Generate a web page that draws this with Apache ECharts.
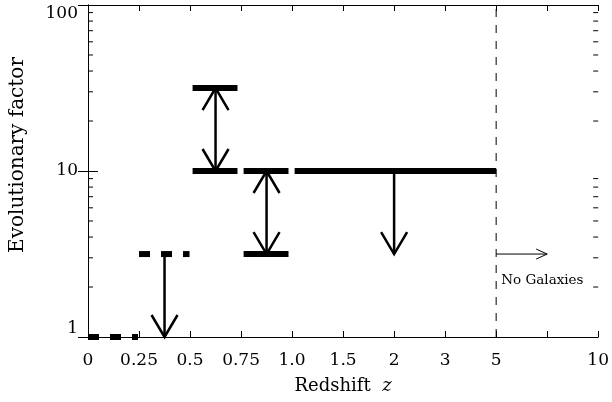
<!DOCTYPE html>
<html>
<head>
<meta charset="utf-8">
<script src="https://cdn.jsdelivr.net/npm/echarts@6/dist/echarts.min.js"></script>
<style>
  html, body { margin: 0; padding: 0; background: #fff; }
  #chart { width: 612px; height: 402px; }
</style>
</head>
<body>
<div id="chart"></div>
<script>
// x positions are slot indices 0..10, labelled with the redshift ticks
const xTickLabels = ['0', '0.25', '0.5', '0.75', '1.0', '1.5', '2', '3', '5', '', '10'];
const yMinorTicks = [2, 3, 4, 5, 6, 7, 8, 9, 20, 30, 40, 50, 60, 70, 80, 90];

// horizontal levels: [xStart, xEnd, factor]
const solidBars = [[2.05, 2.93, 31.6], [2.05, 2.93, 10], [3.05, 3.93, 10], [3.05, 3.93, 3.16], [4.05, 8, 10]];
const dashedBars = [[0, 0.98, 1], [1, 1.99, 3.16]];
// vertical arrows: [x, fromFactor, toFactor]
const downArrows = [[1.5, 3.16, 1], [6, 10, 3.16]];
const doubleArrows = [[2.5, 31.6, 10], [3.5, 10, 3.16]];
// horizontal thin arrow: [xStart, xEnd, factor]
const rightArrows = [[8, 9, 3.16]];
// limit line and its note
const limitLine = [[8, 1, 100]];
const noteText = [[8.1, 2.2, 'No Galaxies']];

const FONT = 'DejaVu Serif';
const chart = echarts.init(document.getElementById('chart'), null, { renderer: 'canvas' });

const barRender = dashed => (params, api) => {
  const a = api.coord([api.value(0), api.value(2)]);
  const b = api.coord([api.value(1), api.value(2)]);
  return {
    type: 'line',
    shape: { x1: a[0], y1: a[1], x2: b[0], y2: b[1] },
    style: { stroke: '#000', lineWidth: 6, lineDash: dashed ? [11, 11] : null, lineCap: 'butt' }
  };
};

const head = (tip, dx, dy, w) => ({
  type: 'polyline',
  shape: { points: [[tip[0] - dx, tip[1] + dy], tip, [tip[0] + dx, tip[1] + dy]] },
  style: { stroke: '#000', fill: null, lineWidth: w, lineJoin: 'miter' }
});

const vArrowRender = both => (params, api) => {
  const p0 = api.coord([api.value(0), api.value(1)]);
  const p1 = api.coord([api.value(0), api.value(2)]);
  const dir = p1[1] > p0[1] ? -1 : 1; // head opens back toward start
  const children = [
    { type: 'line', shape: { x1: p0[0], y1: p0[1], x2: p1[0], y2: p1[1] }, style: { stroke: '#000', lineWidth: 2.5 } },
    head(p1, 13, 22 * dir, 2.5)
  ];
  if (both) children.push(head(p0, 13, -22 * dir, 2.5));
  return { type: 'group', children };
};

chart.setOption({
  backgroundColor: '#fff',
  animation: false,
  grid: { left: 88, right: 12, top: 5, bottom: 65 },
  xAxis: [{
    type: 'value', min: 0, max: 10, interval: 1, position: 'bottom',
    axisLine: { show: true, onZero: false, lineStyle: { color: '#000', width: 1 } },
    axisTick: { show: true, inside: true, length: 6, lineStyle: { color: '#000' } },
    axisLabel: { color: '#000', fontFamily: FONT, fontSize: 17, margin: 15, formatter: v => xTickLabels[Math.round(v)] },
    splitLine: { show: false },
    name: 'Redshift  {i|z}', nameLocation: 'middle', nameGap: 40,
    nameTextStyle: { color: '#000', fontFamily: FONT, fontSize: 18, rich: { i: { fontStyle: 'italic', fontFamily: FONT, fontSize: 18, color: '#000' } } }
  }, {
    type: 'value', min: 0, max: 10, interval: 1, position: 'top',
    axisLine: { show: true, onZero: false, lineStyle: { color: '#000', width: 1 } },
    axisTick: { show: true, inside: true, length: 6, lineStyle: { color: '#000' } },
    axisLabel: { show: false }, splitLine: { show: false }
  }],
  yAxis: [{
    type: 'log', logBase: 10, min: 1, max: 100, interval: 1, position: 'left',
    axisLine: { show: true, lineStyle: { color: '#000', width: 1 } },
    axisTick: { show: true, inside: true, length: 10, lineStyle: { color: '#000' } },
    axisLabel: { color: '#000', fontFamily: FONT, fontSize: 17, margin: 10, verticalAlignMaxLabel: 'top', verticalAlignMinLabel: 'bottom' },
    splitLine: { show: false }
  }, {
    type: 'log', logBase: 10, min: 1, max: 100, interval: 1, position: 'right',
    axisLine: { show: true, lineStyle: { color: '#000', width: 1 } },
    axisTick: { show: true, inside: true, length: 10, lineStyle: { color: '#000' } },
    axisLabel: { show: false }, splitLine: { show: false }
  }],
  graphic: [{
    type: 'text', x: 18, y: 155, rotation: Math.PI / 2,
    style: { text: 'Evolutionary factor', fontFamily: FONT, fontSize: 20, fill: '#000', align: 'center', verticalAlign: 'middle' }
  }],
  series: [{
    // log-spaced minor ticks on left and right frame
    type: 'custom', silent: true, clip: false,
    data: yMinorTicks.map(v => [0, v]),
    encode: { x: 0, y: 1 },
    renderItem: (params, api) => {
      const l = api.coord([0, api.value(1)]);
      const r = api.coord([10, api.value(1)]);
      return { type: 'group', children: [
        { type: 'line', shape: { x1: l[0], y1: l[1], x2: l[0] + 5, y2: l[1] }, style: { stroke: '#000', lineWidth: 1 } },
        { type: 'line', shape: { x1: r[0], y1: r[1], x2: r[0] - 5, y2: r[1] }, style: { stroke: '#000', lineWidth: 1 } }
      ] };
    }
  }, {
    type: 'custom', silent: true, clip: false,
    data: solidBars, encode: { x: [0, 1], y: 2 },
    renderItem: barRender(false)
  }, {
    type: 'custom', silent: true, clip: false,
    data: dashedBars, encode: { x: [0, 1], y: 2 },
    renderItem: barRender(true)
  }, {
    type: 'custom', silent: true, clip: false,
    data: downArrows, encode: { x: 0, y: [1, 2] },
    renderItem: vArrowRender(false)
  }, {
    type: 'custom', silent: true, clip: false,
    data: doubleArrows, encode: { x: 0, y: [1, 2] },
    renderItem: vArrowRender(true)
  }, {
    type: 'custom', silent: true, clip: false,
    data: rightArrows, encode: { x: [0, 1], y: 2 },
    renderItem: (params, api) => {
      const a = api.coord([api.value(0), api.value(2)]);
      const b = api.coord([api.value(1), api.value(2)]);
      return { type: 'group', children: [
        { type: 'line', shape: { x1: a[0], y1: a[1], x2: b[0], y2: b[1] }, style: { stroke: '#000', lineWidth: 1 } },
        { type: 'polyline', shape: { points: [[b[0] - 11, b[1] - 5], b, [b[0] - 11, b[1] + 5]] }, style: { stroke: '#000', fill: null, lineWidth: 1 } }
      ] };
    }
  }, {
    type: 'custom', silent: true, clip: false,
    data: limitLine, encode: { x: 0, y: [1, 2] },
    renderItem: (params, api) => {
      const a = api.coord([api.value(0), api.value(1)]);
      const b = api.coord([api.value(0), api.value(2)]);
      return { type: 'line', shape: { x1: a[0], y1: a[1], x2: b[0], y2: b[1] }, style: { stroke: '#000', lineWidth: 1, lineDash: [8, 8] } };
    }
  }, {
    type: 'custom', silent: true, clip: false,
    data: noteText, encode: { x: 0, y: 1 },
    renderItem: (params, api) => {
      const p = api.coord([api.value(0), api.value(1)]);
      return { type: 'text', x: p[0], y: p[1], style: { text: noteText[params.dataIndex][2], fontFamily: FONT, fontSize: 13.5, fill: '#000', align: 'left', verticalAlign: 'middle' } };
    }
  }]
});
</script>
</body>
</html>
